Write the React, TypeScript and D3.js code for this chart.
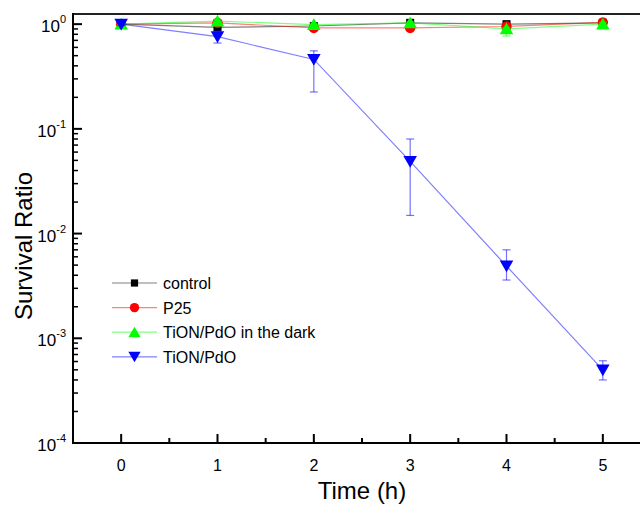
import React, { useEffect, useRef } from 'react';
import * as d3 from 'd3';

// sampling times (h)
const times = [0, 1, 2, 3, 4, 5];

// survival ratios
const controlValues = [1.0, 0.93, 0.96, 1.03, 1.0, 1.03];
const p25Values = [1.0, 1.03, 0.92, 0.92, 0.95, 1.04];
const darkValues = [1.0, 1.07, 0.99, 1.03, 0.9, 1.0];
const tionValues = [1.0, 0.76, 0.46, 0.049, 0.0049, 0.0005];

// error bar ends
const controlLow = [1.0, 0.9, 0.94, 1.0, 0.98, 1.0];
const controlHigh = [1.0, 0.96, 0.98, 1.06, 1.02, 1.06];
const p25Low = [1.0, 1.0, 0.9, 0.9, 0.93, 1.01];
const p25High = [1.0, 1.06, 0.94, 0.94, 0.97, 1.07];
const darkLow = [0.97, 1.03, 0.96, 1.0, 0.77, 0.96];
const darkHigh = [1.03, 1.11, 1.02, 1.06, 0.93, 1.04];
const tionLow = [0.97, 0.66, 0.225, 0.0149, 0.0036, 0.0004];
const tionHigh = [1.03, 0.86, 0.556, 0.08, 0.007, 0.00061];

const seriesNames = ['control', 'P25', 'TiON/PdO in the dark', 'TiON/PdO'];
const seriesColors = ['#000000', '#ff0000', '#00ff00', '#0000ff'];
const seriesShapes = ['square', 'circle', 'triangle', 'triangleDown'];

const xTicks = [0, 1, 2, 3, 4, 5];
const yExponents = [-4, -3, -2, -1, 0];

const App = () => {
  const ref = useRef<SVGSVGElement | null>(null);

  useEffect(() => {
    const width = 640;
    const height = 506;
    const left = 73;
    const right = 651;
    const top = 14;
    const bottom = 443;
    const font = '"Liberation Sans", Arial, sans-serif';

    const svg = d3.select(ref.current);
    svg.selectAll('*').remove();
    svg.attr('width', width).attr('height', height);

    const x = d3.scaleLinear().domain([-0.5, 5.5]).range([left, right]);
    const y = d3.scaleLog().domain([1e-4, 1.25]).range([bottom, top]);

    const clip = svg.append('defs').append('clipPath').attr('id', 'plotclip');
    clip.append('rect').attr('x', left).attr('y', top).attr('width', right - left).attr('height', bottom - top);

    const allValues = [controlValues, p25Values, darkValues, tionValues];
    const allLow = [controlLow, p25Low, darkLow, tionLow];
    const allHigh = [controlHigh, p25High, darkHigh, tionHigh];

    const symbolFor = (shape: string) => {
      if (shape === 'square') return d3.symbol().type(d3.symbolSquare).size(64);
      if (shape === 'circle') return d3.symbol().type(d3.symbolCircle).size(85);
      return d3.symbol().type(d3.symbolTriangle).size(80);
    };

    const drawMarker = (g: any, shape: string, color: string, cx: number, cy: number, scale = 1) => {
      g.append('path')
        .attr('d', symbolFor(shape)())
        .attr(
          'transform',
          `translate(${cx},${cy + (shape === 'triangle' ? 1.5 : shape === 'triangleDown' ? -1.5 : 0)}) scale(${scale}) ${shape === 'triangleDown' ? 'rotate(180)' : ''}`
        )
        .attr('fill', color);
    };

    const plot = svg.append('g').attr('clip-path', 'url(#plotclip)');

    allValues.forEach((vals, si) => {
      const color = seriesColors[si];
      const g = plot.append('g');
      const line = d3
        .line<number>()
        .x((d, i) => x(times[i]))
        .y((d) => y(d));
      g.append('path')
        .datum(vals)
        .attr('d', line)
        .attr('fill', 'none')
        .attr('stroke', color)
        .attr('stroke-opacity', 0.5)
        .attr('stroke-width', 1.2);

      // error bars
      times.forEach((t, i) => {
        const cx = x(t);
        const y1 = y(allLow[si][i]);
        const y2 = y(allHigh[si][i]);
        const eb = g.append('g').attr('stroke', color).attr('stroke-opacity', 0.55).attr('stroke-width', 1.2);
        eb.append('line').attr('x1', cx).attr('x2', cx).attr('y1', y1).attr('y2', y2);
        eb.append('line').attr('x1', cx - 4).attr('x2', cx + 4).attr('y1', y1).attr('y2', y1);
        eb.append('line').attr('x1', cx - 4).attr('x2', cx + 4).attr('y1', y2).attr('y2', y2);
      });

      times.forEach((t, i) => {
        drawMarker(g, seriesShapes[si], color, x(t), y(vals[i]));
      });
    });

    // frame
    svg
      .append('line')
      .attr('x1', left)
      .attr('x2', right)
      .attr('y1', top)
      .attr('y2', top)
      .attr('stroke', '#222')
      .attr('stroke-width', 2);
    svg
      .append('line')
      .attr('x1', left)
      .attr('x2', right)
      .attr('y1', bottom)
      .attr('y2', bottom)
      .attr('stroke', '#000')
      .attr('stroke-width', 2);
    svg
      .append('line')
      .attr('x1', left)
      .attr('x2', left)
      .attr('y1', top - 1)
      .attr('y2', bottom + 1)
      .attr('stroke', '#000')
      .attr('stroke-width', 2);

    // x ticks (inward)
    const xMinor = d3.range(-0.5, 5.6, 0.5).filter((v) => !Number.isInteger(v));
    xTicks.forEach((t) => {
      svg
        .append('line')
        .attr('x1', x(t))
        .attr('x2', x(t))
        .attr('y1', bottom)
        .attr('y2', bottom - 9)
        .attr('stroke', '#000')
        .attr('stroke-width', 2);
      svg
        .append('text')
        .attr('x', x(t))
        .attr('y', 471)
        .attr('text-anchor', 'middle')
        .style('font-family', font)
        .style('font-size', '16px')
        .text(t);
    });
    xMinor.forEach((t) => {
      svg
        .append('line')
        .attr('x1', x(t))
        .attr('x2', x(t))
        .attr('y1', bottom)
        .attr('y2', bottom - 5)
        .attr('stroke', '#000')
        .attr('stroke-width', 2);
    });

    // y ticks (inward)
    yExponents.forEach((e) => {
      const v = Math.pow(10, e);
      svg
        .append('line')
        .attr('x1', left)
        .attr('x2', left + 9)
        .attr('y1', y(v))
        .attr('y2', y(v))
        .attr('stroke', '#000')
        .attr('stroke-width', 2);
      const label = svg
        .append('text')
        .attr('x', 66)
        .attr('y', y(v) + 8)
        .attr('text-anchor', 'end')
        .style('font-family', font)
        .style('font-size', '17px');
      label.append('tspan').text('10');
      label.append('tspan').attr('dy', -9).style('font-size', '11px').text(e);
      if (e < 0) {
        for (let k = 2; k <= 9; k++) {
          const mv = k * Math.pow(10, e);
          svg
            .append('line')
            .attr('x1', left)
            .attr('x2', left + 5)
            .attr('y1', y(mv))
            .attr('y2', y(mv))
            .attr('stroke', '#000')
            .attr('stroke-width', 1.5);
        }
      }
    });

    // axis titles
    svg
      .append('text')
      .attr('transform', 'translate(32,246) rotate(-90)')
      .attr('text-anchor', 'middle')
      .style('font-family', font)
      .style('font-size', '24px')
      .text('Survival Ratio');
    svg
      .append('text')
      .attr('x', 362)
      .attr('y', 499)
      .attr('text-anchor', 'middle')
      .style('font-family', font)
      .style('font-size', '24px')
      .text('Time (h)');

    // legend
    const legend = svg.append('g').attr('transform', 'translate(112,283)');
    seriesNames.forEach((name, i) => {
      const row = legend.append('g').attr('transform', `translate(0,${i * 24.6})`);
      row
        .append('line')
        .attr('x1', 0)
        .attr('x2', 45)
        .attr('y1', 0)
        .attr('y2', 0)
        .attr('stroke', seriesColors[i])
        .attr('stroke-opacity', 0.5)
        .attr('stroke-width', 1.2);
      drawMarker(row, seriesShapes[i], seriesColors[i], 22.5, 0, 0.9);
      row
        .append('text')
        .attr('x', 51)
        .attr('y', 6)
        .style('font-family', font)
        .style('font-size', '16px')
        .text(name);
    });
  }, []);

  return (
    <svg
      ref={ref}
      style={{ position: 'absolute', left: 0, top: 0, display: 'block', overflow: 'hidden' }}
    ></svg>
  );
};

export default App;
